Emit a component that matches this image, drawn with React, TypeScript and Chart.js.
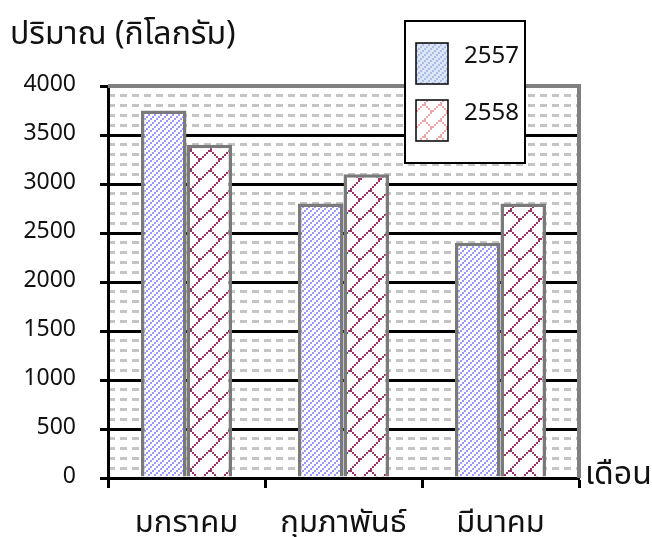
import React, { useEffect, useRef } from "react";
import { Chart, registerables } from "chart.js";

Chart.register(...registerables);

const categories = ["มกราคม", "กุมภาพันธ์", "มีนาคม"];
const seriesLabels = ["2557", "2558"];
const values2557 = [3750, 2800, 2400];
const values2558 = [3400, 3100, 2800];
const yTitle = "ปริมาณ (กิโลกรัม)";
const xTitle = "เดือน";

const FONT = "Tahoma, 'Noto Sans Thai', 'Noto Sans', 'DejaVu Sans', sans-serif";

function cellPattern(cells: number[][], n: number, px: number, fg: string, bg: string) {
  const T = n * px;
  const c = document.createElement("canvas");
  c.width = T;
  c.height = T;
  const g = c.getContext("2d")!;
  g.fillStyle = bg;
  g.fillRect(0, 0, T, T);
  g.fillStyle = fg;
  cells.forEach(([cx, cy]) => g.fillRect(cx * px, cy * px, px, px));
  return g.createPattern(c, "repeat")!;
}

const diagCells = [
  [2, 0],
  [1, 1],
  [0, 2],
];
const brickCells = [
  [9, 0], [8, 1], [7, 2], [6, 3], [5, 4], [4, 5], [3, 6], [2, 7], [1, 8], [0, 9],
  [5, 5], [6, 6], [7, 7], [8, 8], [9, 9],
];
const legendBrickCells = [
  [7, 0], [6, 1], [5, 2], [4, 3], [3, 4], [2, 5], [1, 6], [0, 7],
  [4, 4], [5, 5], [6, 6], [7, 7],
];

export default function App() {
  const ref = useRef<HTMLCanvasElement | null>(null);

  useEffect(() => {
    if (!ref.current) return;
    const p1 = cellPattern(diagCells, 3, 2, "#9999ff", "#ffffff");
    const p2 = cellPattern(brickCells, 10, 2, "#993366", "#ffffff");
    const l1 = cellPattern(diagCells, 3, 2, "#a9bfea", "#dde5f6");
    const l2 = cellPattern(legendBrickCells, 8, 2, "#eaa8a8", "#ffffff");
    const legendFills = [l1, l2];

    const overlay = {
      id: "overlay",
      afterDraw(chart: any) {
        const { ctx, chartArea: a } = chart;
        ctx.save();
        ctx.strokeStyle = "#808080";
        ctx.lineWidth = 4;
        ctx.beginPath();
        ctx.moveTo(a.left, a.top);
        ctx.lineTo(a.right, a.top);
        ctx.lineTo(a.right, a.bottom);
        ctx.stroke();

        const bx = 405, by = 21, bw = 120, bh = 142;
        ctx.fillStyle = "#ffffff";
        ctx.fillRect(bx, by, bw, bh);
        ctx.strokeStyle = "#000";
        ctx.lineWidth = 2;
        ctx.strokeRect(bx, by, bw, bh);
        const sy = [43, 100];
        chart.data.datasets.forEach((ds: any, i: number) => {
          ctx.fillStyle = legendFills[i];
          ctx.fillRect(416, sy[i], 32, 41);
          ctx.strokeStyle = "#000";
          ctx.lineWidth = 1.5;
          ctx.strokeRect(416, sy[i], 32, 41);
          ctx.fillStyle = "#111";
          ctx.font = `24px ${FONT}`;
          ctx.textAlign = "left";
          ctx.textBaseline = "middle";
          ctx.fillText(ds.label, 464, sy[i] + 15);
        });

        ctx.fillStyle = "#111";
        ctx.font = `32px ${FONT}`;
        ctx.textAlign = "left";
        ctx.textBaseline = "alphabetic";
        ctx.fillText(yTitle, 10, 44);
        ctx.fillText(xTitle, 585, 484);
        ctx.restore();
      },
    };

    const chart = new Chart(ref.current, {
      type: "bar",
      data: {
        labels: categories,
        datasets: [
          {
            label: seriesLabels[0],
            data: values2557,
            backgroundColor: p1,
            borderColor: "#7a7a7a",
            borderWidth: 3.5,
            barPercentage: 1,
            categoryPercentage: 0.58,
          },
          {
            label: seriesLabels[1],
            data: values2558,
            backgroundColor: p2,
            borderColor: "#7a7a7a",
            borderWidth: 3.5,
            barPercentage: 1,
            categoryPercentage: 0.58,
          },
        ],
      },
      options: {
        responsive: false,
        animation: false,
        layout: { padding: { left: 0, top: 86, right: 73, bottom: 0 } },
        plugins: {
          legend: { display: false },
          tooltip: { enabled: false },
          title: { display: false },
        },
        scales: {
          x: {
            type: "category",
            offset: true,
            grid: {
              offset: true,
              drawOnChartArea: false,
              drawTicks: true,
              tickLength: 10,
              tickColor: "#000",
              tickWidth: 3,
            } as any,
            border: { color: "#000", width: 3 },
            ticks: {
              color: "#111",
              font: { family: FONT, size: 31 },
              padding: 19,
              maxRotation: 0,
              autoSkip: false,
            },
            afterFit(scale: any) {
              scale.height = 59;
            },
          },
          y2: {
            type: "linear",
            position: "left",
            min: 0,
            max: 4000,
            z: -1,
            ticks: { display: false, stepSize: 100 },
            grid: {
              drawTicks: false,
              lineWidth: 3,
              color: (c: any) =>
                c.tick && c.tick.value % 500 === 0 ? "rgba(0,0,0,0)" : "#c4c4c4",
            },
            border: { display: false, dash: [7, 5] },
            afterFit(scale: any) {
              scale.width = 0;
            },
          },
          y: {
            type: "linear",
            position: "left",
            min: 0,
            max: 4000,
            ticks: {
              stepSize: 500,
              color: "#111",
              font: { family: FONT, size: 23 },
              padding: 24,
              callback: (v: any) => String(v),
            },
            grid: {
              color: "#000",
              lineWidth: 3,
              tickLength: 8,
              tickColor: "#000",
              tickWidth: 3,
            } as any,
            border: { color: "#000", width: 3 },
            afterFit(scale: any) {
              scale.width = 108;
            },
          },
        },
      },
      plugins: [overlay],
    } as any);
    return () => chart.destroy();
  }, []);

  return (
    <div style={{ position: "absolute", left: 0, top: 0, width: 652, height: 537, background: "#fff" }}>
      <canvas ref={ref} width={652} height={537} />
    </div>
  );
}
